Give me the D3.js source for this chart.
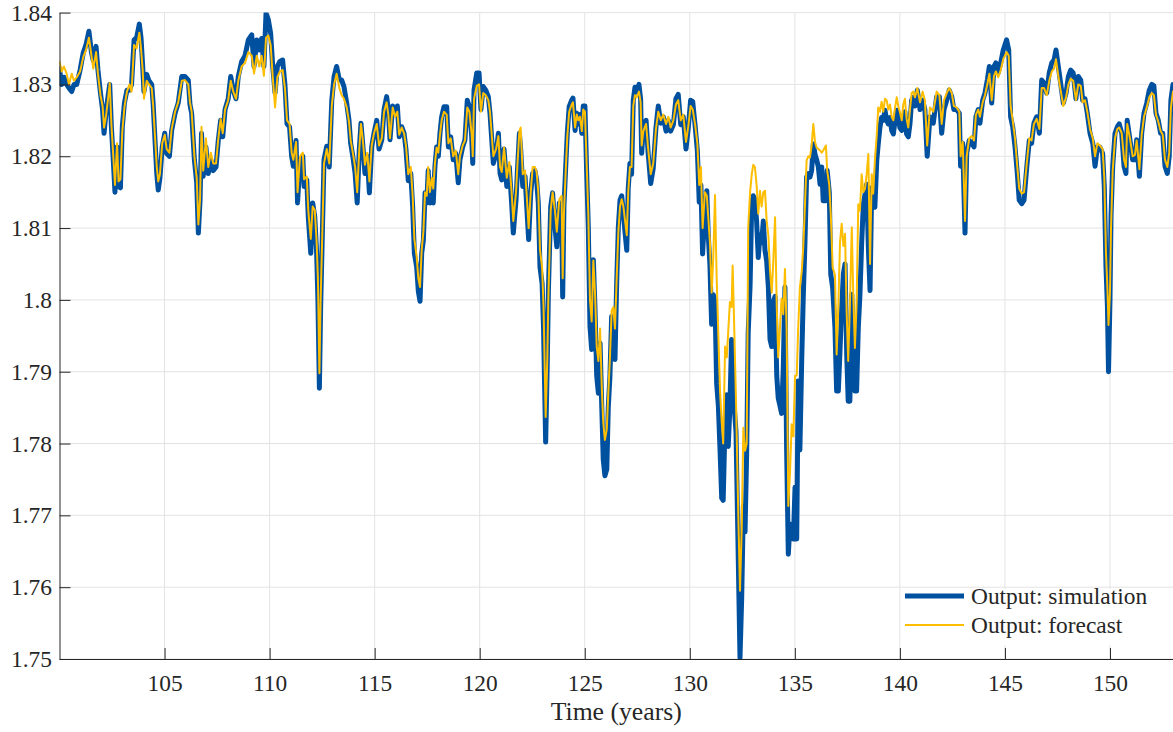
<!DOCTYPE html>
<html>
<head>
<meta charset="utf-8">
<script src="https://cdn.jsdelivr.net/npm/d3@7"></script>
<style>
  body { margin: 0; background: #fff; }
  text { font-family: "Liberation Serif", "Times New Roman", serif; fill: #262626; }
</style>
</head>
<body>
<div id="chart"></div>
<script>
// time axis (years) shared by both series
var years = [
  100.00, 100.10, 100.21, 100.34, 100.45, 100.58, 100.69, 100.82, 100.98, 101.13,
  101.26, 101.40, 101.52, 101.61, 101.74, 101.83, 101.95, 102.05, 102.12, 102.21,
  102.31, 102.39, 102.47, 102.55, 102.64, 102.74, 102.81, 102.90, 102.99, 103.09,
  103.21, 103.33, 103.43, 103.55, 103.67, 103.80, 103.88, 103.96, 104.02, 104.15,
  104.26, 104.39, 104.46, 104.55, 104.63, 104.70, 104.78, 104.89, 105.01, 105.10,
  105.23, 105.34, 105.50, 105.65, 105.82, 105.97, 106.13, 106.21, 106.29, 106.42,
  106.53, 106.61, 106.69, 106.76, 106.84, 106.97, 107.08, 107.20, 107.32, 107.45,
  107.56, 107.67, 107.77, 107.88, 108.03, 108.15, 108.27, 108.40, 108.51, 108.67,
  108.83, 108.99, 109.15, 109.26, 109.39, 109.51, 109.62, 109.73, 109.83, 109.94,
  110.05, 110.15, 110.26, 110.37, 110.49, 110.62, 110.73, 110.83, 110.95, 111.05,
  111.13, 111.26, 111.33, 111.45, 111.58, 111.64, 111.77, 111.84, 111.96, 112.05,
  112.15, 112.24, 112.30, 112.37, 112.43, 112.49, 112.59, 112.72, 112.84, 112.96,
  113.07, 113.19, 113.32, 113.43, 113.54, 113.67, 113.78, 113.86, 113.96, 114.07,
  114.17, 114.27, 114.35, 114.43, 114.54, 114.65, 114.75, 114.86, 114.97, 115.10,
  115.21, 115.34, 115.45, 115.57, 115.65, 115.73, 115.86, 115.97, 116.08, 116.17,
  116.29, 116.40, 116.49, 116.60, 116.72, 116.81, 116.89, 117.00, 117.08, 117.16,
  117.24, 117.32, 117.40, 117.48, 117.55, 117.63, 117.72, 117.79, 117.87, 117.95,
  118.03, 118.11, 118.19, 118.30, 118.43, 118.51, 118.62, 118.74, 118.86, 118.98,
  119.06, 119.19, 119.30, 119.41, 119.51, 119.62, 119.67, 119.73, 119.86, 119.97,
  120.06, 120.17, 120.29, 120.41, 120.49, 120.65, 120.78, 120.89, 120.97, 121.05,
  121.16, 121.29, 121.41, 121.52, 121.60, 121.73, 121.79, 121.89, 121.95, 122.05,
  122.16, 122.24, 122.33, 122.43, 122.52, 122.63, 122.71, 122.79, 122.87, 122.97,
  123.04, 123.14, 123.22, 123.27, 123.38, 123.47, 123.58, 123.67, 123.79, 123.90,
  123.95, 124.01, 124.11, 124.17, 124.26, 124.38, 124.44, 124.54, 124.62, 124.69,
  124.77, 124.86, 124.93, 125.01, 125.09, 125.17, 125.25, 125.33, 125.41, 125.49,
  125.57, 125.65, 125.73, 125.81, 125.88, 125.96, 126.05, 126.12, 126.20, 126.28,
  126.36, 126.44, 126.52, 126.60, 126.68, 126.76, 126.84, 126.92, 127.00, 127.07,
  127.15, 127.23, 127.31, 127.39, 127.47, 127.58, 127.66, 127.71, 127.79, 127.92,
  128.02, 128.14, 128.26, 128.39, 128.50, 128.62, 128.74, 128.87, 128.98, 129.09,
  129.22, 129.34, 129.45, 129.57, 129.69, 129.82, 129.93, 130.04, 130.14, 130.25,
  130.36, 130.45, 130.53, 130.61, 130.72, 130.81, 130.88, 130.96, 131.04, 131.12,
  131.20, 131.28, 131.36, 131.44, 131.52, 131.59, 131.68, 131.76, 131.83, 131.91,
  131.99, 132.04, 132.10, 132.20, 132.31, 132.39, 132.47, 132.55, 132.63, 132.71,
  132.78, 132.87, 132.95, 133.02, 133.10, 133.18, 133.26, 133.34, 133.42, 133.50,
  133.58, 133.66, 133.74, 133.82, 133.90, 133.97, 134.06, 134.14, 134.21, 134.29,
  134.37, 134.45, 134.53, 134.61, 134.69, 134.77, 134.85, 134.93, 135.01, 135.09,
  135.16, 135.24, 135.33, 135.40, 135.48, 135.56, 135.64, 135.72, 135.80, 135.88,
  135.96, 136.04, 136.12, 136.20, 136.28, 136.35, 136.48, 136.54, 136.64, 136.71,
  136.80, 136.91, 136.99, 137.07, 137.15, 137.23, 137.31, 137.39, 137.47, 137.54,
  137.62, 137.71, 137.78, 137.86, 137.94, 138.02, 138.10, 138.18, 138.26, 138.34,
  138.42, 138.50, 138.58, 138.66, 138.73, 138.81, 138.90, 138.97, 139.05, 139.13,
  139.21, 139.29, 139.37, 139.45, 139.53, 139.61, 139.69, 139.77, 139.85, 139.92,
  140.00, 140.09, 140.16, 140.24, 140.32, 140.40, 140.48, 140.56, 140.64, 140.72,
  140.83, 140.96, 141.08, 141.19, 141.30, 141.43, 141.59, 141.75, 141.88, 141.99,
  142.10, 142.23, 142.35, 142.47, 142.57, 142.70, 142.83, 142.89, 142.99, 143.10,
  143.18, 143.30, 143.42, 143.53, 143.62, 143.73, 143.81, 143.94, 144.05, 144.16,
  144.26, 144.37, 144.48, 144.57, 144.68, 144.80, 144.92, 145.08, 145.18, 145.27,
  145.37, 145.48, 145.59, 145.68, 145.80, 145.91, 146.04, 146.16, 146.27, 146.38,
  146.51, 146.64, 146.75, 146.86, 146.99, 147.11, 147.23, 147.34, 147.43, 147.54,
  147.65, 147.78, 147.91, 148.02, 148.13, 148.25, 148.38, 148.49, 148.61, 148.70,
  148.81, 148.92, 149.05, 149.18, 149.29, 149.40, 149.52, 149.65, 149.73, 149.81,
  149.88, 149.93, 150.00, 150.05, 150.13, 150.24, 150.35, 150.44, 150.56, 150.67,
  150.76, 150.82, 150.95, 151.08, 151.19, 151.27, 151.40, 151.51, 151.62, 151.75,
  151.87, 151.99, 152.09, 152.19, 152.30, 152.41, 152.51, 152.62, 152.73, 152.82,
  152.90, 153.00
];

// Output: simulation
var simulation = [
  1.8322, 1.8300, 1.8310, 1.8300, 1.8295, 1.8290, 1.8300, 1.8300, 1.8320, 1.8344,
  1.8355, 1.8374, 1.8345, 1.8333, 1.8353, 1.8320, 1.8288, 1.8265, 1.8232, 1.8260,
  1.8283, 1.8300, 1.8241, 1.8200, 1.8150, 1.8213, 1.8158, 1.8156, 1.8241, 1.8274,
  1.8292, 1.8292, 1.8300, 1.8362, 1.8365, 1.8384, 1.8365, 1.8325, 1.8290, 1.8314,
  1.8305, 1.8300, 1.8272, 1.8220, 1.8176, 1.8153, 1.8170, 1.8213, 1.8232, 1.8204,
  1.8200, 1.8236, 1.8260, 1.8274, 1.8311, 1.8311, 1.8306, 1.8272, 1.8260, 1.8195,
  1.8163, 1.8093, 1.8139, 1.8232, 1.8172, 1.8213, 1.8176, 1.8195, 1.8180, 1.8185,
  1.8223, 1.8250, 1.8227, 1.8265, 1.8280, 1.8311, 1.8292, 1.8280, 1.8311, 1.8332,
  1.8340, 1.8362, 1.8369, 1.8325, 1.8362, 1.8348, 1.8364, 1.8325, 1.8399, 1.8390,
  1.8371, 1.8325, 1.8288, 1.8325, 1.8332, 1.8334, 1.8300, 1.8245, 1.8241, 1.8200,
  1.8186, 1.8222, 1.8135, 1.8195, 1.8200, 1.8158, 1.8167, 1.8116, 1.8065, 1.8135,
  1.8116, 1.8065, 1.8000, 1.7877, 1.7990, 1.8065, 1.8195, 1.8214, 1.8185, 1.8278,
  1.8311, 1.8325, 1.8306, 1.8306, 1.8297, 1.8274, 1.8250, 1.8218, 1.8200, 1.8176,
  1.8135, 1.8210, 1.8246, 1.8218, 1.8176, 1.8200, 1.8149, 1.8213, 1.8232, 1.8250,
  1.8210, 1.8223, 1.8265, 1.8283, 1.8265, 1.8223, 1.8270, 1.8260, 1.8270, 1.8227,
  1.8241, 1.8232, 1.8210, 1.8166, 1.8176, 1.8130, 1.8065, 1.8046, 1.8012, 1.7998,
  1.8065, 1.8083, 1.8149, 1.8135, 1.8180, 1.8135, 1.8163, 1.8135, 1.8186, 1.8213,
  1.8200, 1.8232, 1.8255, 1.8269, 1.8269, 1.8213, 1.8227, 1.8195, 1.8204, 1.8163,
  1.8195, 1.8213, 1.8223, 1.8278, 1.8269, 1.8227, 1.8190, 1.8292, 1.8316, 1.8316,
  1.8265, 1.8297, 1.8292, 1.8283, 1.8260, 1.8190, 1.8204, 1.8232, 1.8176, 1.8167,
  1.8210, 1.8158, 1.8185, 1.8135, 1.8093, 1.8139, 1.8176, 1.8232, 1.8210, 1.8158,
  1.8172, 1.8130, 1.8084, 1.8149, 1.8176, 1.8180, 1.8167, 1.8135, 1.8046, 1.8023,
  1.7960, 1.7802, 1.7917, 1.8012, 1.8130, 1.8149, 1.8102, 1.8074, 1.8135, 1.8135,
  1.8004, 1.8130, 1.8195, 1.8232, 1.8269, 1.8278, 1.8281, 1.8236, 1.8260, 1.8245,
  1.8258, 1.8232, 1.8270, 1.8270, 1.8180, 1.8102, 1.7963, 1.7931, 1.8056, 1.7986,
  1.7894, 1.7870, 1.7940, 1.7852, 1.7778, 1.7755, 1.7764, 1.7850, 1.7894, 1.7977,
  1.7955, 1.7917, 1.8023, 1.8102, 1.8139, 1.8145, 1.8120, 1.8093, 1.8069, 1.8155,
  1.8190, 1.8175, 1.8278, 1.8296, 1.8290, 1.8300, 1.8280, 1.8204, 1.8241, 1.8250,
  1.8204, 1.8162, 1.8183, 1.8240, 1.8270, 1.8246, 1.8255, 1.8235, 1.8250, 1.8235,
  1.8244, 1.8280, 1.8286, 1.8244, 1.8255, 1.8210, 1.8240, 1.8278, 1.8276, 1.8244,
  1.8208, 1.8136, 1.8160, 1.8064, 1.8126, 1.8152, 1.8090, 1.8048, 1.7966, 1.8007,
  1.7997, 1.7883, 1.7853, 1.7791, 1.7724, 1.7721, 1.7830, 1.7868, 1.7796, 1.7850,
  1.7945, 1.7900, 1.7858, 1.7816, 1.7636, 1.7502, 1.7584, 1.7713, 1.7677, 1.7791,
  1.7954, 1.8020, 1.8136, 1.8145, 1.8140, 1.8110, 1.8059, 1.8090, 1.8080, 1.8110,
  1.8069, 1.8054, 1.8018, 1.7945, 1.7935, 1.7997, 1.8005, 1.7894, 1.7863, 1.7853,
  1.7842, 1.7905, 1.8018, 1.7791, 1.7646, 1.7688, 1.7683, 1.7667, 1.7739, 1.7667,
  1.7887, 1.7791, 1.7920, 1.8003, 1.8078, 1.8171, 1.8176, 1.8171, 1.8180, 1.8217,
  1.8203, 1.8195, 1.8185, 1.8161, 1.8185, 1.8138, 1.8138, 1.8180, 1.8150, 1.8036,
  1.8017, 1.7961, 1.7873, 1.7873, 1.7929, 1.7989, 1.8036, 1.8050, 1.7924, 1.7859,
  1.7859, 1.8008, 1.7933, 1.7873, 1.7873, 1.7961, 1.8008, 1.8078, 1.8133, 1.8147,
  1.8161, 1.8073, 1.8013, 1.8156, 1.8138, 1.8129, 1.8194, 1.8217, 1.8240, 1.8254,
  1.8250, 1.8264, 1.8250, 1.8245, 1.8254, 1.8236, 1.8231, 1.8250, 1.8264, 1.8254,
  1.8240, 1.8236, 1.8254, 1.8262, 1.8231, 1.8227, 1.8245, 1.8278, 1.8282, 1.8270,
  1.8292, 1.8265, 1.8278, 1.8265, 1.8200, 1.8255, 1.8246, 1.8283, 1.8283, 1.8232,
  1.8265, 1.8278, 1.8292, 1.8283, 1.8265, 1.8265, 1.8260, 1.8186, 1.8218, 1.8093,
  1.8204, 1.8222, 1.8218, 1.8213, 1.8255, 1.8265, 1.8246, 1.8278, 1.8288, 1.8306,
  1.8325, 1.8274, 1.8325, 1.8330, 1.8316, 1.8330, 1.8348, 1.8362, 1.8348, 1.8255,
  1.8241, 1.8213, 1.8176, 1.8139, 1.8134, 1.8139, 1.8185, 1.8222, 1.8218, 1.8246,
  1.8255, 1.8232, 1.8306, 1.8302, 1.8288, 1.8316, 1.8330, 1.8334, 1.8348, 1.8325,
  1.8302, 1.8274, 1.8288, 1.8311, 1.8320, 1.8316, 1.8280, 1.8311, 1.8306, 1.8278,
  1.8280, 1.8260, 1.8232, 1.8218, 1.8186, 1.8213, 1.8213, 1.8204, 1.8158, 1.8046,
  1.7990, 1.7900, 1.8000, 1.8116, 1.8186, 1.8232, 1.8241, 1.8245, 1.8232, 1.8186,
  1.8176, 1.8250, 1.8223, 1.8195, 1.8195, 1.8223, 1.8172, 1.8232, 1.8260, 1.8274,
  1.8292, 1.8300, 1.8298, 1.8260, 1.8250, 1.8232, 1.8232, 1.8186, 1.8176, 1.8200,
  1.8278, 1.8300
];

// Output: forecast
var forecast = [
  1.8332, 1.8318, 1.8325, 1.8315, 1.8300, 1.8315, 1.8305, 1.8310, 1.8318, 1.8338,
  1.8348, 1.8365, 1.8340, 1.8322, 1.8345, 1.8315, 1.8285, 1.8270, 1.8240, 1.8255,
  1.8280, 1.8302, 1.8245, 1.8205, 1.8160, 1.8218, 1.8165, 1.8168, 1.8235, 1.8268,
  1.8290, 1.8300, 1.8290, 1.8355, 1.8350, 1.8372, 1.8350, 1.8320, 1.8280, 1.8305,
  1.8300, 1.8295, 1.8270, 1.8225, 1.8185, 1.8165, 1.8175, 1.8218, 1.8230, 1.8210,
  1.8205, 1.8238, 1.8262, 1.8275, 1.8305, 1.8306, 1.8300, 1.8275, 1.8262, 1.8200,
  1.8170, 1.8105, 1.8140, 1.8241, 1.8180, 1.8225, 1.8185, 1.8205, 1.8190, 1.8190,
  1.8225, 1.8252, 1.8232, 1.8265, 1.8278, 1.8305, 1.8290, 1.8280, 1.8305, 1.8325,
  1.8330, 1.8345, 1.8340, 1.8315, 1.8340, 1.8325, 1.8340, 1.8312, 1.8365, 1.8368,
  1.8355, 1.8310, 1.8268, 1.8310, 1.8318, 1.8320, 1.8295, 1.8250, 1.8245, 1.8205,
  1.8195, 1.8220, 1.8150, 1.8200, 1.8205, 1.8168, 1.8172, 1.8125, 1.8085, 1.8130,
  1.8125, 1.8080, 1.8030, 1.7898, 1.8000, 1.8070, 1.8190, 1.8210, 1.8190, 1.8270,
  1.8300, 1.8315, 1.8295, 1.8285, 1.8280, 1.8268, 1.8248, 1.8222, 1.8205, 1.8185,
  1.8150, 1.8210, 1.8245, 1.8225, 1.8188, 1.8205, 1.8165, 1.8215, 1.8232, 1.8245,
  1.8215, 1.8225, 1.8262, 1.8275, 1.8258, 1.8225, 1.8268, 1.8255, 1.8262, 1.8230,
  1.8240, 1.8232, 1.8215, 1.8175, 1.8185, 1.8145, 1.8085, 1.8060, 1.8030, 1.8018,
  1.8070, 1.8095, 1.8150, 1.8145, 1.8185, 1.8150, 1.8170, 1.8155, 1.8190, 1.8212,
  1.8205, 1.8230, 1.8250, 1.8262, 1.8258, 1.8218, 1.8225, 1.8200, 1.8208, 1.8175,
  1.8200, 1.8215, 1.8222, 1.8268, 1.8262, 1.8230, 1.8200, 1.8280, 1.8298, 1.8300,
  1.8262, 1.8288, 1.8285, 1.8278, 1.8262, 1.8200, 1.8210, 1.8228, 1.8185, 1.8178,
  1.8212, 1.8170, 1.8192, 1.8150, 1.8110, 1.8150, 1.8185, 1.8235, 1.8240, 1.8175,
  1.8180, 1.8145, 1.8100, 1.8150, 1.8185, 1.8185, 1.8178, 1.8150, 1.8070, 1.8045,
  1.7990, 1.7837, 1.7920, 1.8005, 1.8125, 1.8150, 1.8125, 1.8095, 1.8140, 1.8145,
  1.8030, 1.8120, 1.8190, 1.8228, 1.8262, 1.8272, 1.8275, 1.8240, 1.8258, 1.8250,
  1.8255, 1.8235, 1.8265, 1.8262, 1.8190, 1.8120, 1.8000, 1.7970, 1.8055, 1.8010,
  1.7935, 1.7915, 1.7960, 1.7880, 1.7830, 1.7805, 1.7820, 1.7870, 1.7920, 1.7985,
  1.7990, 1.7960, 1.8030, 1.8095, 1.8130, 1.8140, 1.8130, 1.8110, 1.8090, 1.8150,
  1.8185, 1.8185, 1.8270, 1.8285, 1.8282, 1.8290, 1.8275, 1.8215, 1.8235, 1.8245,
  1.8210, 1.8175, 1.8190, 1.8238, 1.8262, 1.8250, 1.8258, 1.8245, 1.8255, 1.8240,
  1.8250, 1.8272, 1.8278, 1.8250, 1.8258, 1.8220, 1.8242, 1.8270, 1.8265, 1.8245,
  1.8218, 1.8160, 1.8185, 1.8100, 1.8150, 1.8145, 1.8115, 1.8080, 1.8010, 1.8060,
  1.8146, 1.8030, 1.7950, 1.7873, 1.7830, 1.7800, 1.7935, 1.7920, 1.7956, 1.7997,
  1.7990, 1.8048, 1.7980, 1.7860, 1.7700, 1.7595, 1.7680, 1.7822, 1.7790, 1.7800,
  1.8100, 1.8150, 1.8175, 1.8188, 1.8185, 1.8160, 1.8120, 1.8152, 1.8130, 1.8150,
  1.8152, 1.8110, 1.8090, 1.8040, 1.8010, 1.8050, 1.8115, 1.7990, 1.7920, 1.7960,
  1.8002, 1.7980, 1.8043, 1.7960, 1.7713, 1.7760, 1.7827, 1.7810, 1.7894, 1.7895,
  1.7960, 1.8017, 1.8040, 1.8073, 1.8130, 1.8194, 1.8200, 1.8198, 1.8215, 1.8245,
  1.8220, 1.8212, 1.8210, 1.8208, 1.8205, 1.8208, 1.8215, 1.8180, 1.8160, 1.8120,
  1.8045, 1.8035, 1.7924, 1.7990, 1.8080, 1.8106, 1.8075, 1.8092, 1.7980, 1.7915,
  1.7990, 1.8101, 1.8010, 1.7933, 1.7995, 1.8133, 1.8124, 1.8175, 1.8150, 1.8155,
  1.8175, 1.8203, 1.8050, 1.8175, 1.8148, 1.8194, 1.8230, 1.8268, 1.8262, 1.8276,
  1.8262, 1.8280, 1.8278, 1.8265, 1.8272, 1.8255, 1.8250, 1.8268, 1.8282, 1.8270,
  1.8262, 1.8250, 1.8272, 1.8280, 1.8252, 1.8240, 1.8265, 1.8288, 1.8290, 1.8282,
  1.8295, 1.8275, 1.8290, 1.8278, 1.8215, 1.8268, 1.8262, 1.8290, 1.8285, 1.8245,
  1.8278, 1.8288, 1.8295, 1.8288, 1.8270, 1.8268, 1.8262, 1.8200, 1.8220, 1.8110,
  1.8200, 1.8225, 1.8228, 1.8222, 1.8258, 1.8265, 1.8255, 1.8275, 1.8285, 1.8300,
  1.8315, 1.8278, 1.8312, 1.8318, 1.8310, 1.8320, 1.8335, 1.8345, 1.8340, 1.8270,
  1.8250, 1.8225, 1.8185, 1.8155, 1.8148, 1.8150, 1.8190, 1.8225, 1.8222, 1.8245,
  1.8252, 1.8238, 1.8295, 1.8295, 1.8285, 1.8305, 1.8318, 1.8322, 1.8335, 1.8312,
  1.8292, 1.8270, 1.8282, 1.8300, 1.8308, 1.8305, 1.8278, 1.8300, 1.8298, 1.8275,
  1.8278, 1.8262, 1.8238, 1.8225, 1.8200, 1.8218, 1.8215, 1.8210, 1.8170, 1.8065,
  1.8015, 1.7965, 1.8010, 1.8100, 1.8180, 1.8225, 1.8238, 1.8240, 1.8232, 1.8195,
  1.8185, 1.8245, 1.8225, 1.8200, 1.8202, 1.8222, 1.8182, 1.8230, 1.8255, 1.8268,
  1.8282, 1.8288, 1.8285, 1.8258, 1.8248, 1.8235, 1.8230, 1.8195, 1.8185, 1.8205,
  1.8268, 1.8290
];

var seriesNames = ["Output: simulation", "Output: forecast"];
var xTicks = [105, 110, 115, 120, 125, 130, 135, 140, 145, 150];
var yTicks = [1.75, 1.76, 1.77, 1.78, 1.79, 1.8, 1.81, 1.82, 1.83, 1.84];

// canvas size and margins
var svgWidth = 1173;
var svgHeight = 732;
var margin = { top: 12.6, right: 0, bottom: 73, left: 59.5 };
var width = svgWidth - margin.left - margin.right;
var height = svgHeight - margin.top - margin.bottom;

var serifFont = "'Liberation Serif', 'Times New Roman', serif";
var simColor = "#0050a0";
var fcColor = "#fdbd00";

var svg = d3.select("#chart")
  .append("svg")
  .attr("width", svgWidth)
  .attr("height", svgHeight);

var chartGroup = svg.append("g")
  .attr("transform", `translate(${margin.left}, ${margin.top})`);

var xScale = d3.scaleLinear().domain([100, 153]).range([0, width]);
var yScale = d3.scaleLinear().domain([1.75, 1.84]).range([height, 0]);

// grid lines
chartGroup.append("g")
  .selectAll("line")
  .data(xTicks)
  .enter()
  .append("line")
  .attr("x1", d => xScale(d))
  .attr("x2", d => xScale(d))
  .attr("y1", 0)
  .attr("y2", height)
  .attr("stroke", "#e3e3e3")
  .attr("stroke-width", 1);

chartGroup.append("g")
  .selectAll("line")
  .data(yTicks)
  .enter()
  .append("line")
  .attr("x1", 0)
  .attr("x2", width)
  .attr("y1", d => yScale(d))
  .attr("y2", d => yScale(d))
  .attr("stroke", "#e3e3e3")
  .attr("stroke-width", 1);

// clip the lines to the plot box
chartGroup.append("clipPath")
  .attr("id", "plotClip")
  .append("rect")
  .attr("x", 0)
  .attr("y", 0)
  .attr("width", width)
  .attr("height", height);

var data = years.map((t, i) => ({ t: t, sim: simulation[i], fc: forecast[i] }));

var simLine = d3.line().x(d => xScale(d.t)).y(d => yScale(d.sim));
var fcLine = d3.line().x(d => xScale(d.t)).y(d => yScale(d.fc));

var linesGroup = chartGroup.append("g").attr("clip-path", "url(#plotClip)");

linesGroup.append("path")
  .datum(data)
  .attr("d", simLine)
  .attr("fill", "none")
  .attr("stroke", simColor)
  .attr("stroke-width", 5)
  .attr("stroke-linejoin", "round")
  .attr("stroke-linecap", "round");

linesGroup.append("path")
  .datum(data)
  .attr("d", fcLine)
  .attr("fill", "none")
  .attr("stroke", fcColor)
  .attr("stroke-width", 2)
  .attr("stroke-linejoin", "round")
  .attr("stroke-linecap", "round");

// axes, ticks pointing inward
var bottomAxis = d3.axisBottom(xScale)
  .tickValues(xTicks)
  .tickSizeInner(-11)
  .tickSizeOuter(0)
  .tickPadding(15)
  .tickFormat(d3.format("d"));

var leftAxis = d3.axisLeft(yScale)
  .tickValues(yTicks)
  .tickSizeInner(-11)
  .tickSizeOuter(0)
  .tickPadding(7.5)
  .tickFormat(d => String(+d.toFixed(2)));

var xAxis = chartGroup.append("g")
  .attr("transform", `translate(0, ${height})`)
  .call(bottomAxis);

var yAxis = chartGroup.append("g")
  .call(leftAxis);

[xAxis, yAxis].forEach(function(ax) {
  ax.attr("font-family", null).attr("font-size", null);
  ax.select(".domain").attr("stroke", "#262626").attr("stroke-width", 1);
  ax.selectAll(".tick line").attr("stroke", "#262626").attr("stroke-width", 1);
  ax.selectAll(".tick text")
    .style("font-family", serifFont)
    .style("font-size", "23.4px")
    .style("fill", "#262626");
});

// x axis title
chartGroup.append("text")
  .attr("x", width / 2)
  .attr("y", height + 61)
  .attr("text-anchor", "middle")
  .style("font-family", serifFont)
  .style("font-size", "25.7px")
  .text("Time (years)");

// legend (no border, white background)
var legend = svg.append("g")
  .attr("transform", "translate(903, 589)");

legend.append("rect")
  .attr("x", 0)
  .attr("y", 0)
  .attr("width", 262)
  .attr("height", 56)
  .attr("fill", "#fff");

var legendColors = [simColor, fcColor];
var legendWidths = [5, 2];

seriesNames.forEach(function(name, i) {
  var ly = 7 + i * 29;
  legend.append("line")
    .attr("x1", 2)
    .attr("x2", 61)
    .attr("y1", ly)
    .attr("y2", ly)
    .attr("stroke", legendColors[i])
    .attr("stroke-width", legendWidths[i]);
  legend.append("text")
    .attr("x", 68)
    .attr("y", ly + 8)
    .style("font-family", serifFont)
    .style("font-size", "23.4px")
    .text(name);
});
</script>
</body>
</html>
